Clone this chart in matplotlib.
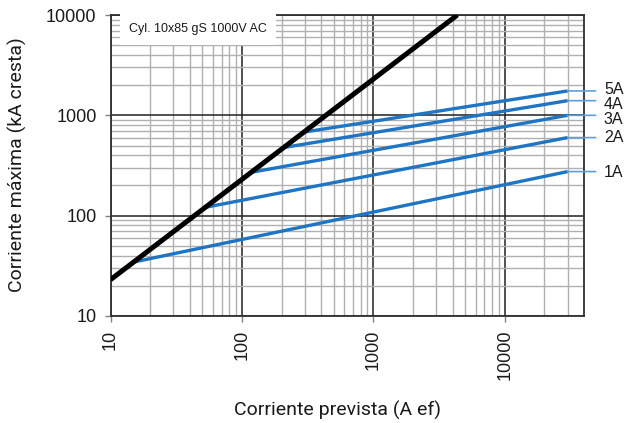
import numpy as np
import matplotlib
matplotlib.use("Agg")
import matplotlib.pyplot as plt
from matplotlib.ticker import LogLocator, NullFormatter, FixedLocator, FixedFormatter

# Cut-off characteristic: peak let-through current vs prospective current
envelope_x = [10, 4350]          # A ef
envelope_y = [23, 10000]         # kA cresta (unlimited peak)

ratings = ["1A", "2A", "3A", "4A", "5A"]
start_x = [15, 52.5, 117, 208, 295]
start_y = [34.5, 121, 270, 478, 680]
end_x = [30000, 30000, 30000, 30000, 30000]
end_y = [275, 600, 1000, 1400, 1750]

x_ticks = [10, 100, 1000, 10000]
x_ticklabels = ["10", "100", "1000", "10000"]
y_ticks = [10, 100, 1000, 10000]
y_ticklabels = ["10", "100", "1000", "10000"]

title_box = "Cyl. 10x85 gS 1000V AC"
xlabel = "Corriente prevista (A ef)"
ylabel = "Corriente máxima (kA cresta)"

BLUE = "#1f74c4"
LEADER = "#5c9fd8"
SANS = ["Liberation Sans", "DejaVu Sans"]
LABEL_FONT = ["Roboto", "DejaVu Sans"]

fig = plt.figure(figsize=(6.24, 4.23), dpi=100)
ax = fig.add_axes([110.5 / 624, 1 - 316 / 423, 473.5 / 624, 301 / 423])
ax.set_xscale("log")
ax.set_yscale("log")
ax.set_xlim(10, 40000)
ax.set_ylim(10, 10000)

# grid: dark decades, grey subdivisions
ax.xaxis.set_minor_locator(LogLocator(base=10, subs=np.arange(2, 10)))
ax.yaxis.set_minor_locator(LogLocator(base=10, subs=np.arange(2, 10)))
ax.xaxis.set_minor_formatter(NullFormatter())
ax.yaxis.set_minor_formatter(NullFormatter())
ax.grid(True, which="minor", color="#b0b0b0", linewidth=1.0)
ax.grid(True, which="major", color="#202020", linewidth=1.1)
ax.set_axisbelow(True)

ax.xaxis.set_major_locator(FixedLocator(x_ticks))
ax.xaxis.set_major_formatter(FixedFormatter(x_ticklabels))
ax.yaxis.set_major_locator(FixedLocator(y_ticks))
ax.yaxis.set_major_formatter(FixedFormatter(y_ticklabels))
ax.tick_params(which="minor", length=0)
ax.tick_params(which="major", length=4, width=1, color="#808080",
               labelsize=13, labelcolor="#1a1a1a", pad=6)
for lbl in ax.get_xticklabels():
    lbl.set_rotation(90)
    lbl.set_family(SANS)
for lbl in ax.get_yticklabels():
    lbl.set_family(SANS)

for sp in ax.spines.values():
    sp.set_color("#303030")
    sp.set_linewidth(1.3)

# fuse curves
for sx, sy, ex, ey in zip(start_x, start_y, end_x, end_y):
    ax.plot([sx, ex], [sy, ey], color=BLUE, linewidth=2.4,
            solid_capstyle="butt", zorder=3)

# unlimited peak envelope
ax.plot(envelope_x, envelope_y, color="black", linewidth=3.6,
        solid_capstyle="butt", zorder=4)

# rating labels with leader lines outside the frame
label_dy = [-1, 0, -3, -3, 1]
for name, ex, ey, dy in zip(ratings, end_x, end_y, label_dy):
    ax.annotate("", xy=(ex, ey), xytext=(49000, ey),
                arrowprops=dict(arrowstyle="-", color=LEADER, lw=1.2,
                                shrinkA=0, shrinkB=0),
                annotation_clip=False)
    ax.annotate(name, xy=(49000, ey), xytext=(6, dy),
                textcoords="offset points", ha="left", va="center",
                fontsize=11.5, family=SANS, color="#1a1a1a",
                annotation_clip=False)

ax.text(0.039, 0.952, title_box, transform=ax.transAxes, ha="left",
        va="center", fontsize=9, family=SANS, color="#1a1a1a", zorder=5,
        bbox=dict(boxstyle="square,pad=0.75", facecolor="white",
                  edgecolor="none"))

fig.text(338 / 624, 1 - 410 / 423, xlabel, ha="center", va="center",
         fontsize=14, family=LABEL_FONT, color="#1a1a1a")
fig.text(17 / 624, 1 - 165 / 423, ylabel, ha="center", va="center",
         rotation=90, fontsize=14, family=LABEL_FONT, color="#1a1a1a")

fig.savefig("out.png", dpi=100)
